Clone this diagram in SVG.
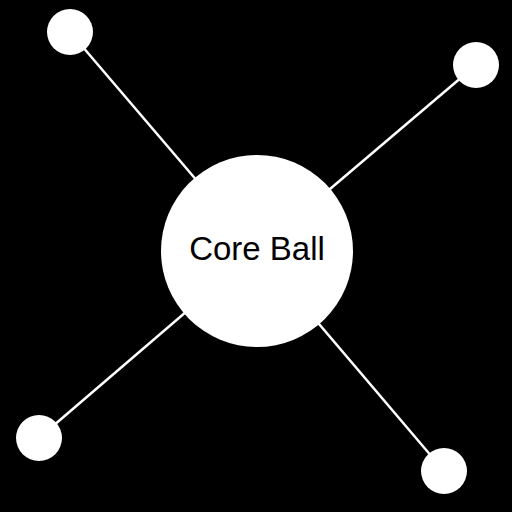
<svg xmlns="http://www.w3.org/2000/svg" width="512" height="512" viewBox="0 0 512 512">
<style>
.edge{stroke:#fff;stroke-width:2.5;fill:none}
.ball{fill:#fff}
.label{font-family:"Liberation Sans",Arial,sans-serif;font-size:33px;fill:#000;text-anchor:middle}
</style>
<rect width="512" height="512" fill="#000"/>
<g id="connectors">
<line class="edge" x1="257" y1="251" x2="70" y2="32"/>
<line class="edge" x1="257" y1="251" x2="476" y2="65"/>
<line class="edge" x1="257" y1="251" x2="39" y2="438"/>
<line class="edge" x1="257" y1="251" x2="444" y2="471"/>
</g>
<g id="core"><circle class="ball" cx="257" cy="251" r="96"/><text class="label" x="257" y="260">Core Ball</text></g>
<g id="ball-tl"><circle class="ball" cx="70" cy="32" r="23"/></g>
<g id="ball-tr"><circle class="ball" cx="476" cy="65" r="23"/></g>
<g id="ball-bl"><circle class="ball" cx="39" cy="438" r="23"/></g>
<g id="ball-br"><circle class="ball" cx="444" cy="471" r="23"/></g>
</svg>
